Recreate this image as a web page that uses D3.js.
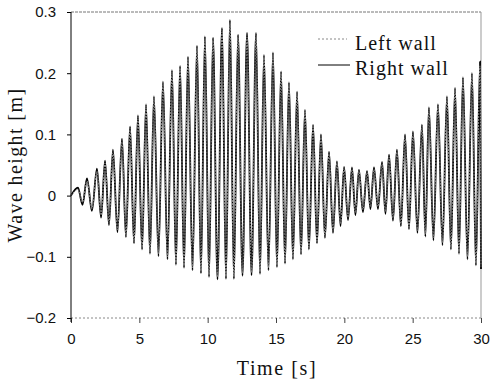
<!DOCTYPE html>
<html>
<head>
<meta charset="utf-8">
<script src="https://cdn.jsdelivr.net/npm/d3@7"></script>
<style>
body { margin: 0; background: #fff; }
svg { display: block; }
</style>
</head>
<body>
<svg id="chart" width="491" height="384"></svg>
<script>
// times of the crests and of the troughs that follow them [s]
const crestTime = [0.51, 1.17, 1.90, 2.49, 3.07, 3.73, 4.32, 4.90, 5.49, 6.07,
    6.73, 7.39, 7.98, 8.56, 9.22, 9.80, 10.39, 11.05, 11.63, 12.22,
    12.88, 13.54, 14.12, 14.78, 15.37, 15.95, 16.54, 17.12, 17.71, 18.29,
    18.88, 19.46, 19.98, 20.56, 21.07, 21.66, 22.17, 22.76, 23.27, 23.85,
    24.44, 25.02, 25.68, 26.19, 26.85, 27.51, 28.10, 28.68, 29.34, 29.93];
const troughTime = [0.84, 1.53, 2.20, 2.78, 3.40, 4.02, 4.61, 5.20, 5.78, 6.40,
    7.06, 7.68, 8.27, 8.89, 9.51, 10.10, 10.72, 11.34, 11.92, 12.55,
    13.21, 13.83, 14.45, 15.07, 15.66, 16.24, 16.83, 17.41, 18.00, 18.58,
    19.17, 19.72, 20.27, 20.81, 21.36, 21.91, 22.46, 23.01, 23.56, 24.14,
    24.73, 25.35, 25.93, 26.52, 27.18, 27.80, 28.39, 29.01, 29.63, 30.00];

// right wall wave height [m]
const rightCrest = [0.013, 0.028, 0.044, 0.057, 0.075, 0.093, 0.113, 0.131, 0.149, 0.162,
    0.186, 0.205, 0.212, 0.227, 0.245, 0.260, 0.258, 0.274, 0.287, 0.263,
    0.266, 0.266, 0.230, 0.234, 0.203, 0.185, 0.170, 0.140, 0.116, 0.100,
    0.072, 0.056, 0.047, 0.046, 0.042, 0.040, 0.046, 0.055, 0.067, 0.075,
    0.100, 0.105, 0.116, 0.144, 0.149, 0.162, 0.176, 0.193, 0.200, 0.219];
const rightTrough = [-0.015, -0.025, -0.036, -0.048, -0.060, -0.068, -0.078, -0.088, -0.095, -0.099,
    -0.104, -0.113, -0.118, -0.122, -0.127, -0.133, -0.137, -0.136, -0.136, -0.131,
    -0.130, -0.128, -0.122, -0.117, -0.111, -0.104, -0.096, -0.088, -0.078, -0.069,
    -0.061, -0.050, -0.040, -0.032, -0.027, -0.022, -0.022, -0.030, -0.041, -0.050,
    -0.055, -0.061, -0.067, -0.073, -0.081, -0.088, -0.095, -0.104, -0.114, -0.120];

// left wall wave height [m]
const leftCrest = [0.010, 0.024, 0.040, 0.053, 0.070, 0.088, 0.107, 0.125, 0.143, 0.157,
    0.180, 0.198, 0.207, 0.221, 0.238, 0.252, 0.253, 0.267, 0.279, 0.258,
    0.259, 0.259, 0.225, 0.227, 0.198, 0.179, 0.164, 0.136, 0.112, 0.095,
    0.068, 0.053, 0.044, 0.043, 0.040, 0.038, 0.043, 0.052, 0.063, 0.071,
    0.095, 0.100, 0.111, 0.138, 0.144, 0.156, 0.170, 0.186, 0.194, 0.212];
const leftTrough = [-0.011, -0.021, -0.032, -0.044, -0.056, -0.064, -0.074, -0.084, -0.091, -0.095,
    -0.100, -0.109, -0.114, -0.118, -0.123, -0.129, -0.133, -0.132, -0.132, -0.127,
    -0.126, -0.124, -0.118, -0.113, -0.107, -0.100, -0.092, -0.084, -0.074, -0.065,
    -0.057, -0.046, -0.036, -0.028, -0.023, -0.018, -0.018, -0.026, -0.037, -0.046,
    -0.051, -0.057, -0.063, -0.069, -0.077, -0.084, -0.091, -0.100, -0.110, -0.116];

const xTicks = [0, 5, 10, 15, 20, 25, 30];
const yTicks = [-0.2, -0.1, 0, 0.1, 0.2, 0.3];
const seriesNames = ['Left wall', 'Right wall'];

// crest, trough, crest, trough ... starting from rest at t = 0
function toPoints(crests, troughs) {
    var pts = [[0, 0]];
    for (var i = 0; i < crestTime.length; i++) {
        pts.push([crestTime[i], crests[i]]);
        pts.push([troughTime[i], troughs[i]]);
    }
    return pts;
}

function draw() {
    var svg = d3.select('#chart');
    var left = 71, right = 481, top = 12, bottom = 318;
    var xs = d3.scaleLinear().domain([0, 30]).range([left, right]);
    var ys = d3.scaleLinear().domain([-0.2, 0.3]).range([bottom, top]);

    svg.append('rect').attr('width', 491).attr('height', 384).attr('fill', '#fff');

    // frame: top and bottom dotted grey, right grey, left black
    svg.append('line').attr('x1', left).attr('x2', right).attr('y1', top).attr('y2', top)
        .attr('stroke', '#777').attr('stroke-width', 1).attr('stroke-dasharray', '3,1');
    svg.append('line').attr('x1', left).attr('x2', right).attr('y1', bottom).attr('y2', bottom)
        .attr('stroke', '#888').attr('stroke-width', 1).attr('stroke-dasharray', '2,2');
    svg.append('line').attr('x1', right).attr('x2', right).attr('y1', top).attr('y2', bottom)
        .attr('stroke', '#999').attr('stroke-width', 1);

    var line = d3.line()
        .x(function (d) { return xs(d[0]); })
        .y(function (d) { return ys(d[1]); })
        .curve(d3.curveMonotoneX);

    svg.append('path').datum(toPoints(rightCrest, rightTrough))
        .attr('d', line).attr('fill', 'none')
        .attr('stroke', '#000').attr('stroke-width', 1.8);
    svg.append('path').datum(toPoints(leftCrest, leftTrough))
        .attr('d', line).attr('fill', 'none')
        .attr('stroke', '#888').attr('stroke-width', 1).attr('stroke-dasharray', '2,1');

    // axes
    var xAxis = svg.append('g').attr('transform', 'translate(0,' + bottom + ')')
        .call(d3.axisBottom(xs).tickValues(xTicks).tickSize(5).tickPadding(10)
            .tickFormat(d3.format('d')));
    xAxis.select('.domain').remove();
    xAxis.selectAll('.tick line').attr('stroke', '#444');
    xAxis.selectAll('text').attr('font-family', 'Liberation Sans, Arial, sans-serif')
        .attr('font-size', 15).attr('fill', '#111');

    var yAxis = svg.append('g').attr('transform', 'translate(' + left + ',0)')
        .call(d3.axisLeft(ys).tickValues(yTicks).tickSize(4).tickPadding(11)
            .tickFormat(function (d) { return d === 0 ? '0' : d3.format('.1f')(d); }));
    yAxis.select('.domain').attr('d', 'M0,' + top + 'V' + (bottom + 4)).attr('stroke', '#000');
    yAxis.selectAll('text').attr('font-family', 'Liberation Sans, Arial, sans-serif')
        .attr('font-size', 15).attr('fill', '#111');

    // titles
    svg.append('text').attr('x', 277).attr('y', 375).attr('text-anchor', 'middle')
        .attr('font-family', 'Liberation Serif, Times New Roman, serif').attr('font-size', 20)
        .attr('letter-spacing', 1.6).attr('fill', '#111').text('Time [s]');
    svg.append('text').attr('transform', 'translate(22,165) rotate(-90)').attr('text-anchor', 'middle')
        .attr('font-family', 'Liberation Serif, Times New Roman, serif').attr('font-size', 20)
        .attr('letter-spacing', 1.4).attr('fill', '#111').text('Wave height [m]');

    // legend
    var legend = svg.append('g').attr('transform', 'translate(318,39)');
    legend.selectAll('line').data(seriesNames).enter().append('line')
        .attr('x1', 0).attr('x2', function (d, i) { return i ? 32 : 29; })
        .attr('y1', function (d, i) { return i * 26; }).attr('y2', function (d, i) { return i * 26; })
        .attr('stroke', function (d, i) { return i ? '#000' : '#888'; })
        .attr('stroke-width', 1)
        .attr('stroke-dasharray', function (d, i) { return i ? null : '2,2'; });
    legend.selectAll('text').data(seriesNames).enter().append('text')
        .attr('x', 37).attr('y', function (d, i) { return 11 + i * 25; })
        .attr('font-family', 'Liberation Serif, Times New Roman, serif').attr('font-size', 20)
        .attr('letter-spacing', 1).attr('fill', '#111')
        .text(function (d) { return d; });
}

draw();
</script>
</body>
</html>
